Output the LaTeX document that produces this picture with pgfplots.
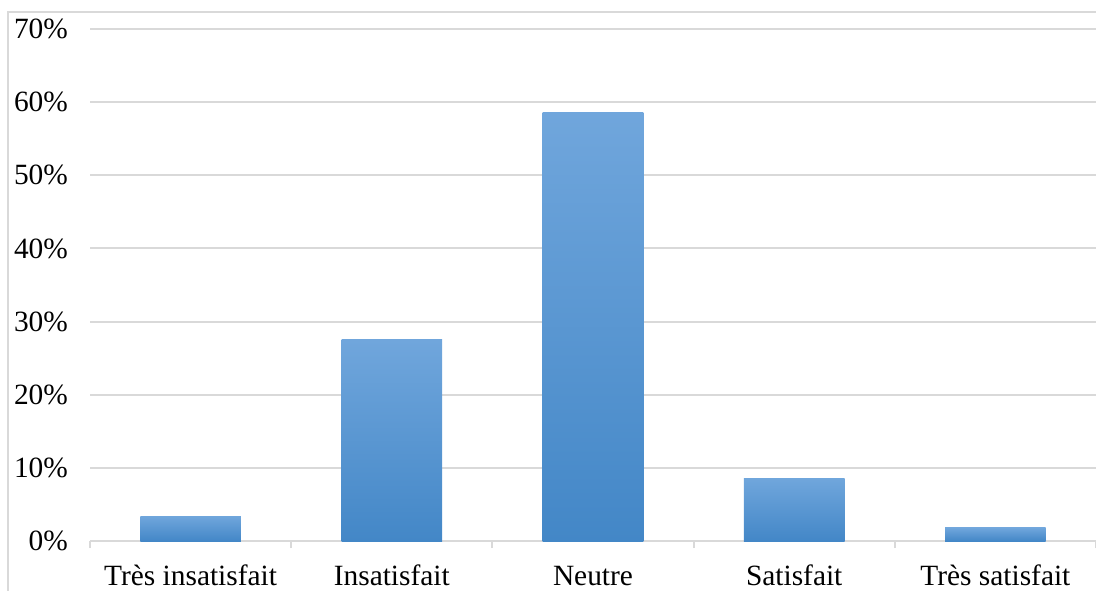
\documentclass[border=0pt]{standalone}
\usepackage{fontspec}
\setmainfont{Liberation Serif}
\usepackage{pgfplots}
\pgfplotsset{compat=1.18}
\definecolor{gridc}{HTML}{D9D9D9}
\definecolor{bartop}{HTML}{70A6DC}
\definecolor{barbot}{HTML}{4387C7}
\begin{document}
\begin{tikzpicture}[x=1pt,y=1pt]
\useasboundingbox (-45,-24.5) rectangle (503,270.5);
\draw[gridc, line width=1pt] (-41,-30) -- (-41,264.5) -- (520,264.5);
\begin{axis}[
  at={(0,0)}, anchor=south west,
  scale only axis, width=503pt, height=256pt,
  xmin=-0.5, xmax=4.5, ymin=0, ymax=70,
  xtick={0,1,2,3,4},
  xticklabels={Très insatisfait, Insatisfait, Neutre, Satisfait, Très satisfait},
  ytick={0,10,20,30,40,50,60,70},
  yticklabels={0\%,10\%,20\%,30\%,40\%,50\%,60\%,70\%},
  minor xtick={-0.5,0.5,1.5,2.5,3.5,4.5},
  major tick length=0pt, minor tick length=3.5pt, tick align=outside,
  minor tick style={draw=gridc, line width=1pt},
  ymajorgrids, grid style={draw=gridc, line width=1pt},
  axis x line*=bottom, axis y line*=left,
  y axis line style={draw=none},
  x axis line style={draw=gridc, line width=1pt, -},
  tick label style={font=\fontsize{14.7}{17}\selectfont, text=black},
  yticklabel style={xshift=-7.5pt},
  xticklabel style={anchor=base, yshift=-22pt},
  bars/.style={ybar, bar width=0.5, draw=none, top color=bartop, bottom color=barbot},
]
\addplot[bars] coordinates {(0,3.4)};
\addplot[bars] coordinates {(1,27.5)};
\addplot[bars] coordinates {(2,58.6)};
\addplot[bars] coordinates {(3,8.6)};
\addplot[bars] coordinates {(4,1.8)};
\end{axis}
\end{tikzpicture}
\end{document}
